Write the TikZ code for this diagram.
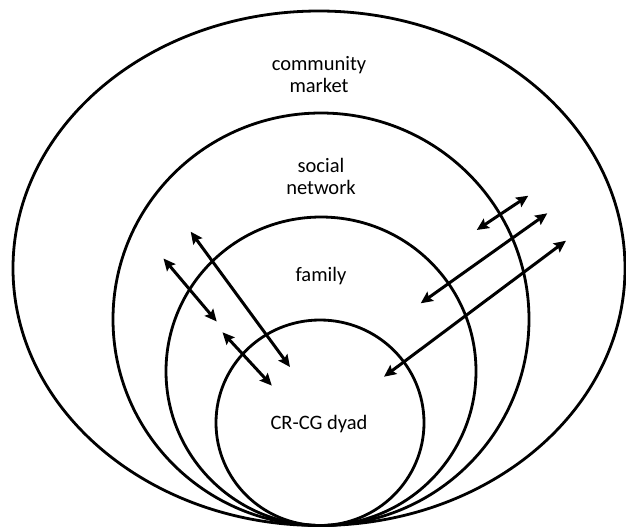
\documentclass[tikz,border=0pt]{standalone}
\usepackage{fontspec}
\setmainfont{Carlito}
\usetikzlibrary{arrows.meta}

\begin{document}
\begin{tikzpicture}[x=1pt, y=-1pt,
    ring/.style = {line width=2.8pt},
    link/.style = {line width=3pt,
      {Stealth[length=12pt,width=11pt,inset=2pt]}-{Stealth[length=12pt,width=11pt,inset=2pt]}},
    lbl/.style = {align=center, inner sep=0pt, font=\fontsize{20.5}{22}\selectfont}
  ]
    \useasboundingbox (0,0) rectangle (626,528);

    % nested rings, all touching at the bottom
    \draw[ring] (319,268.25) ellipse [x radius=306, y radius=257.25];
    \draw[ring] (321,319.25) ellipse [x radius=208, y radius=206.25];
    \draw[ring] (321,371.25) ellipse [x radius=155, y radius=154.25];
    \draw[ring] (320,422.75) ellipse [x radius=104, y radius=102.75];

    % labels
    \node[lbl] (market) at (319,75) {community\\market};
    \node[lbl] (network) at (321,176) {social\\network};
    \node[lbl] (family) at (321,276) {family};
    \node[lbl] (dyad) at (319,424) {CR-CG dyad};

    % arrow ends
    \coordinate (a1) at (163.5,258.5);
    \coordinate (b1) at (216.7,321.5);
    \coordinate (a2) at (190.7,231.7);
    \coordinate (b2) at (290,367);
    \coordinate (a3) at (222.5,332.3);
    \coordinate (b3) at (271.8,385.6);
    \coordinate (a4) at (476.7,230);
    \coordinate (b4) at (528.3,195.7);
    \coordinate (a5) at (420.7,303.3);
    \coordinate (b5) at (547.3,213.3);
    \coordinate (a6) at (384,376.7);
    \coordinate (b6) at (566,240.7);

    % exchanges between the rings
    \draw[link] (a1) -- (b1);
    \draw[link] (a2) -- (b2);
    \draw[link] (a3) -- (b3);
    \draw[link] (a4) -- (b4);
    \draw[link] (a5) -- (b5);
    \draw[link] (a6) -- (b6);
  \end{tikzpicture}
\end{document}
